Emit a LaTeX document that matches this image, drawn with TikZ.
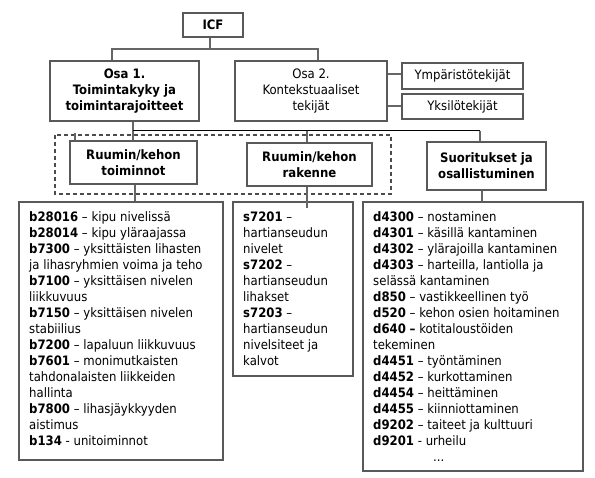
\documentclass[tikz,border=0pt]{standalone}
\usepackage{fontspec}
\setmainfont{DejaVu Sans Condensed}
\begin{document}
\begin{tikzpicture}[x=1pt,y=-1pt,
  box/.style={draw=black!65, line width=1.1pt, rectangle, inner sep=0pt, align=center, font=\fontsize{13}{16}\selectfont},
  conn/.style={draw=black!60, line width=1.1pt},
  bar/.style={draw=black, line width=1pt},
  listtext/.style={anchor=north west, inner sep=0pt, align=left, font=\fontsize{13}{16}\selectfont}]
\useasboundingbox (0,0) rectangle (595,478);
% top
\node[box, minimum width=60pt, minimum height=24pt, font=\fontsize{13}{16}\selectfont\bfseries] (icf) at (213,25) {ICF};
\node[box, minimum width=149pt, minimum height=60pt, font=\fontsize{13}{16}\selectfont\bfseries] (osa1) at (124.5,91) {Osa 1.\\Toimintakyky ja\\toimintarajoitteet};
\node[box, minimum width=152pt, minimum height=60pt] (osa2) at (311,91) {Osa 2.\\Kontekstuaaliset\\tekijät};
\node[box, minimum width=121pt, minimum height=26pt] (ymp) at (462.5,76) {Ympäristötekijät};
\node[box, minimum width=121pt, minimum height=25pt] (yks) at (462.5,106.5) {Yksilötekijät};
% dashed group
\draw[draw=black!70, line width=1.1pt, dash pattern=on 4pt off 3pt] (55,135) rectangle (391,194);
% second level
\node[box, minimum width=127pt, minimum height=43pt, font=\fontsize{13}{16}\selectfont\bfseries] (rk1) at (133.5,162.5) {Ruumin/kehon\\toiminnot};
\node[box, minimum width=125pt, minimum height=43pt, font=\fontsize{13}{16}\selectfont\bfseries] (rk2) at (309.5,164.5) {Ruumin/kehon\\rakenne};
\node[box, minimum width=119pt, minimum height=48pt, font=\fontsize{13}{16}\selectfont\bfseries] (suo) at (486.5,166) {Suoritukset ja\\osallistuminen};
% list boxes
\node[box, minimum width=204pt, minimum height=258pt] (lb) at (121,331) {};
\node[box, minimum width=120pt, minimum height=174pt] (ls) at (293,289) {};
\node[box, minimum width=220pt, minimum height=269pt] (ld) at (473,336.5) {};
\node[listtext] (tb) at (29,210) {\strut\textbf{b28016} – kipu nivelissä\\
\textbf{b28014} – kipu yläraajassa\\
\textbf{b7300} – yksittäisten lihasten\\
ja lihasryhmien voima ja teho\\
\textbf{b7100} – yksittäisen nivelen\\
liikkuvuus\\
\textbf{b7150} – yksittäisen nivelen\\
stabiilius\\
\textbf{b7200} – lapaluun liikkuvuus\\
\textbf{b7601} – monimutkaisten\\
tahdonalaisten liikkeiden\\
hallinta\\
\textbf{b7800} – lihasjäykkyyden\\
aistimus\\
\textbf{b134} - unitoiminnot};
\node[listtext] (ts) at (243,210) {\strut\textbf{s7201} –\\
hartianseudun\\
nivelet\\
\textbf{s7202} –\\
hartianseudun\\
lihakset\\
\textbf{s7203} –\\
hartianseudun\\
nivelsiteet ja\\
kalvot};
\node[listtext] (td) at (373,210) {\strut\textbf{d4300} – nostaminen\\
\textbf{d4301} – käsillä kantaminen\\
\textbf{d4302} – ylärajoilla kantaminen\\
\textbf{d4303} – harteilla, lantiolla ja\\
selässä kantaminen\\
\textbf{d850} – vastikkeellinen työ\\
\textbf{d520} – kehon osien hoitaminen\\
\textbf{d640} \textbf{–} kotitaloustöiden\\
tekeminen\\
\textbf{d4451} – työntäminen\\
\textbf{d4452} – kurkottaminen\\
\textbf{d4454} – heittäminen\\
\textbf{d4455} – kiinniottaminen\\
\textbf{d9202} – taiteet ja kulttuuri\\
\textbf{d9201} - urheilu\\
\hspace*{60pt}...};
% connectors
\coordinate (j1) at (210,49);
\draw[conn] (icf.south -| j1) -- (j1);
\draw[conn] (osa1.north -| 112,0) -- (112,49) -- (318,49) -- (osa2.north -| 318,0);
\draw[conn] (osa2.east |- 0,74) -- (ymp.west |- 0,74);
\draw[conn] (osa2.east |- 0,106) -- (yks.west |- 0,106);
\coordinate (j2) at (133,131);
\draw[conn] (osa1.south -| j2) -- (rk1.north -| j2);
\draw[bar] (j2) -- (480,131);
\draw[conn] (480,131) -- (suo.north -| 480,0);
\draw[conn] (307,131) -- (rk2.north -| 307,0);
\draw[conn] (75,133) -- (rk1.north -| 75,0);
\draw[conn] (rk1.south -| 135,0) -- (lb.north -| 135,0);
\draw[conn] (rk2.south -| 307,0) -- (307,208);
\draw[conn] (suo.south -| 482,0) -- (ld.north -| 482,0);
\end{tikzpicture}
\end{document}
